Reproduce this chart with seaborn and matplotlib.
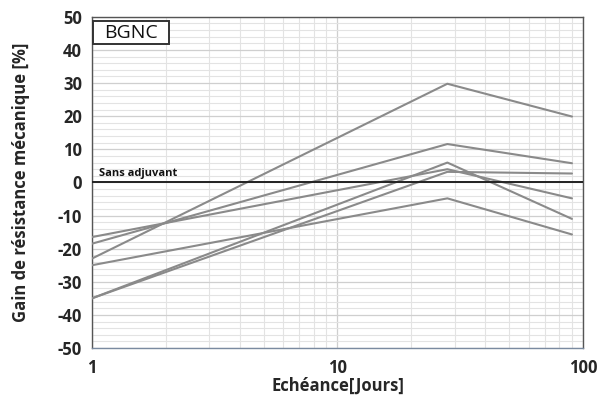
import numpy as np
import pandas as pd
import matplotlib
matplotlib.use("Agg")
import matplotlib.pyplot as plt
import seaborn as sns
from matplotlib.ticker import FixedLocator, NullFormatter, MultipleLocator
from matplotlib.patches import Rectangle

days = [1, 28, 90]
serie_a = [-23.0, 29.8, 19.9]
serie_b = [-18.5, 11.6, 5.8]
serie_c = [-16.5, 4.0, -4.8]
serie_d = [-35.0, 6.0, -11.0]
serie_e = [-35.0, 3.2, 2.7]
serie_f = [-25.0, -4.8, -15.7]
series = {"A": serie_a, "B": serie_b, "C": serie_c, "D": serie_d, "E": serie_e, "F": serie_f}

rows = []
for name, vals in series.items():
    for d, v in zip(days, vals):
        rows.append({"serie": name, "jours": d, "gain": v})
df = pd.DataFrame(rows)

sns.set_theme(style="white")
plt.rcParams['font.family'] = ['Open Sans', 'DejaVu Sans']
plt.rcParams['axes.unicode_minus'] = False

fig = plt.figure(figsize=(6.0, 4.01), dpi=100)
ax = fig.add_axes([0.153, 0.132, 0.819, 0.826])

sns.lineplot(data=df, x="jours", y="gain", hue="serie",
             palette=["#8a8a8a"] * len(series), legend=False,
             linewidth=1.5, ax=ax, zorder=3)

ax.set_xscale("log")
ax.set_xlim(1, 100)
ax.set_ylim(-50, 50)

ax.yaxis.set_major_locator(MultipleLocator(10))
ax.yaxis.set_minor_locator(MultipleLocator(2))
ax.xaxis.set_major_locator(FixedLocator([1, 10, 100]))
minor_x = [k * 10 ** e for e in range(0, 2) for k in range(2, 10)]
ax.xaxis.set_minor_locator(FixedLocator(minor_x))
ax.xaxis.set_minor_formatter(NullFormatter())
ax.set_xticklabels(["1", "10", "100"])

ax.grid(which="major", color="#cfcfcf", linewidth=0.9, zorder=0)
ax.grid(which="minor", color="#e3e3e3", linewidth=0.8, zorder=0)
ax.set_axisbelow(True)

ax.axhline(0, color="#222222", linewidth=1.4, zorder=4)

for s in ax.spines.values():
    s.set_color("#555555")
    s.set_linewidth(1.0)
ax.spines["bottom"].set_color("#7a8aa0")

ax.tick_params(axis="both", which="major", labelsize=12, length=4, width=0.8,
               color="#888888")
ax.tick_params(axis="x", which="major", direction="in", pad=8)
ax.tick_params(axis="y", which="major", direction="out", pad=3)
ax.tick_params(which="minor", length=0)
for lbl in ax.get_xticklabels() + ax.get_yticklabels():
    lbl.set_fontweight("bold")

ax.set_xlabel("Echéance[Jours]", fontsize=12, fontweight="bold", labelpad=0)
ax.set_ylabel("Gain de résistance mécanique [%]", fontsize=12, fontweight="bold", labelpad=20)

ax.text(1.07, 0.9, "Sans adjuvant", fontsize=8, fontweight="bold", color="#111111",
        va="bottom", ha="left", zorder=5)

ax.add_patch(Rectangle((0.002, 0.917), 0.155, 0.071, transform=ax.transAxes,
                       facecolor="white", edgecolor="#333333", linewidth=1.4, zorder=6))
ax.text(0.0795, 0.9525, "BGNC", transform=ax.transAxes, fontsize=14, color="#111111",
        va="center", ha="center", zorder=7)

fig.savefig("out.png", dpi=100)
